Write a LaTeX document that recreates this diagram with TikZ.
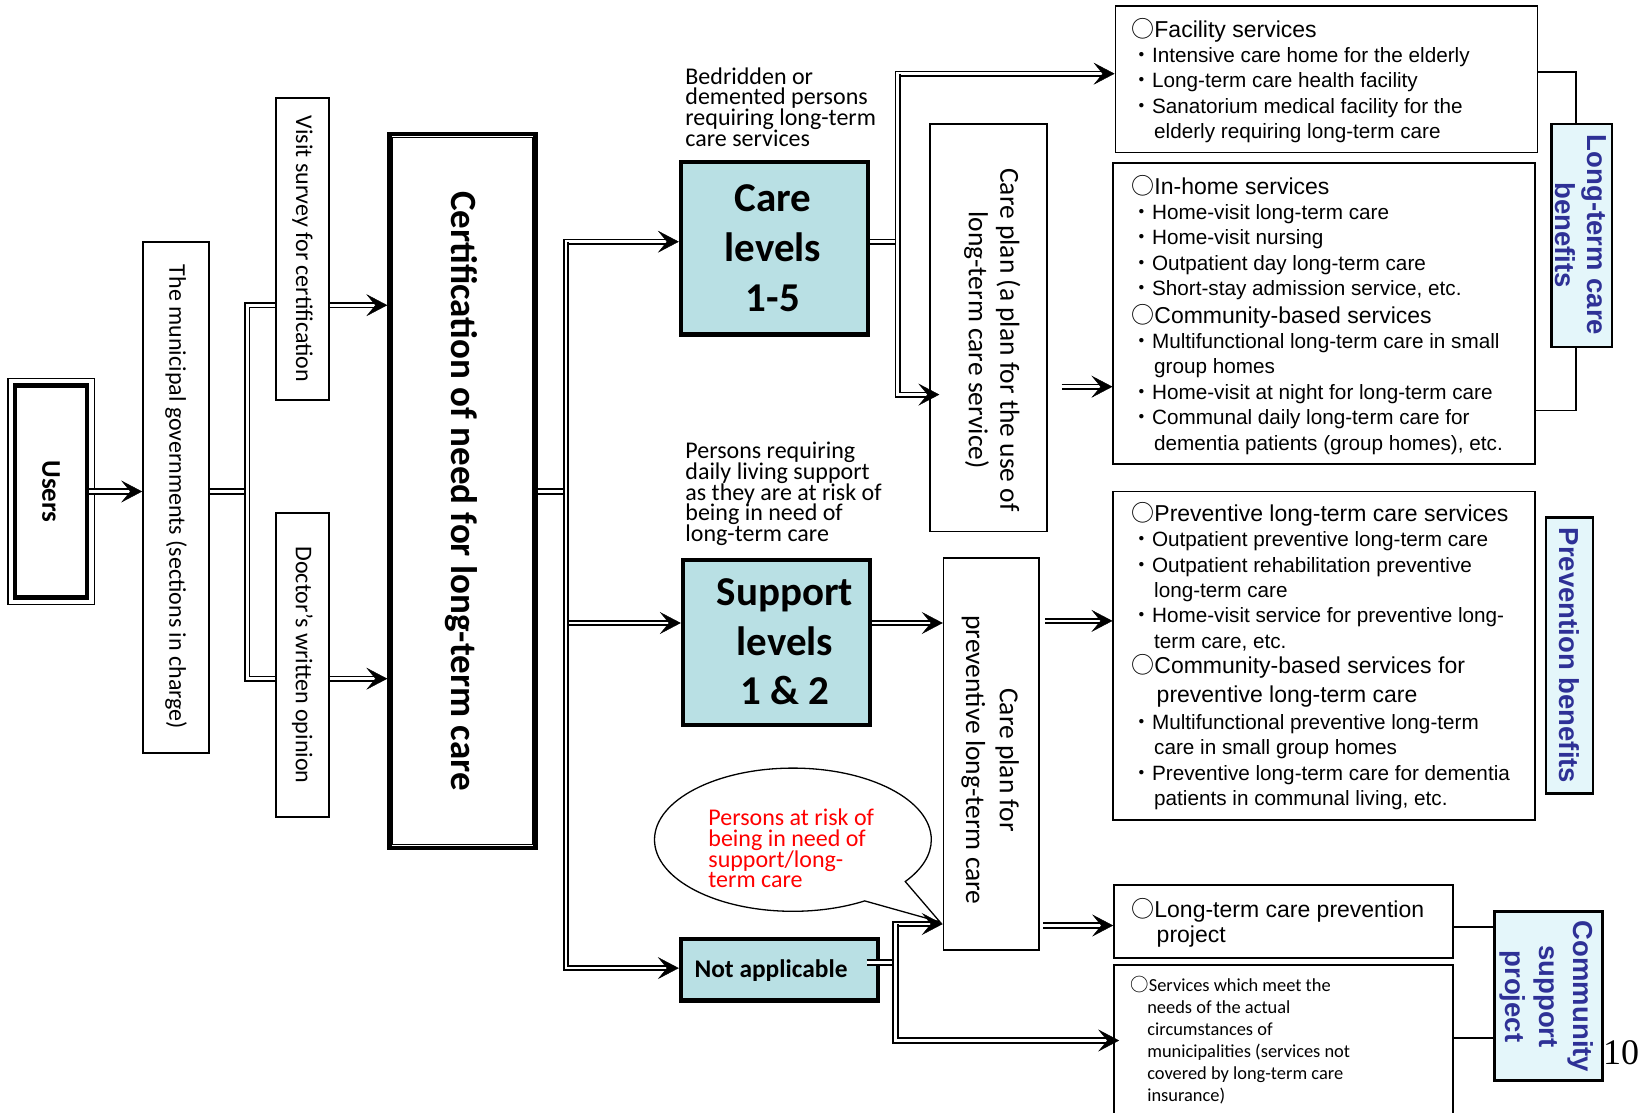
\documentclass[tikz,border=0pt]{standalone}
\usepackage{fontspec}
\setmainfont{Carlito}
\newfontfamily\arialf{Liberation Sans}
\newfontfamily\jpfont{Noto Sans CJK JP}
\newfontfamily\serifnum{Liberation Serif}
\usetikzlibrary{arrows.meta,calc,shapes.callouts}
\definecolor{lvfill}{RGB}{185,224,228}
\definecolor{lblfill}{RGB}{228,246,250}
\definecolor{lblblue}{RGB}{46,49,150}
\definecolor{bubred}{RGB}{255,0,0}
\newcommand\setfs[2]{\fontsize{#1}{#2}\selectfont\lineskiplimit=-100pt\relax}
\newcommand\wc{{\jpfont ○}}
\newcommand\bu{{\jpfont ・}}
\newcommand\ind{\hspace*{1.1em}}
\newcommand\hd{\setfs{11.5}{12.7}}
\newcommand\dblarr[2][]{\draw[dbl,shorten >=5.5pt,#1] #2; \draw[tipline,#1] #2;}
\tikzset{
 thinbox/.style={draw, line width=0.85pt, fill=white, inner sep=0pt},
 thickbox/.style={draw, line width=2.2pt, fill=white, inner sep=0pt},
 lvbox/.style={thickbox, fill=lvfill},
 lblbox/.style={draw, line width=1.25pt, fill=lblfill, inner sep=0pt},
 lbltext/.style={rotate=-90, align=center, inner sep=0pt, text=lblblue},
 lblfont/.style={font=\arialf\bfseries\setfs{13.75}{#1}},
 rottext/.style={rotate=-90, align=center, inner sep=0pt},
 listtext/.style={anchor=west, align=left, inner sep=0pt, font=\arialf\setfs{10.35}{12.7}},
 notetext/.style={anchor=west, align=left, inner sep=0pt, font=\setfs{12}{10.4}},
 dbl/.style={draw=black, line width=0.9pt, double=white, double distance=1.3pt},
 tipline/.style={draw=white, line width=0.2pt, -{Stealth[color=black, fill=black, length=10.5pt, width=11pt, inset=4.5pt]}},
 bracket/.style={draw, line width=0.85pt},
}
\begin{document}
\begin{tikzpicture}[x=0.5pt, y=-0.5pt]
\useasboundingbox[fill=white] (0,0) rectangle (1650,1113);

% ---------- left column ----------
\node[thickbox, minimum width=36.25pt, minimum height=106pt] (users) at (51,491.5) {};
\draw[line width=0.65pt] ($(users.north west)+(-4.7,-4.5)$) rectangle ($(users.south east)+(4.7,4.5)$);
\node[rottext, font=\bfseries\setfs{13.5}{16}] (userstext) at (users.center) {Users};

\node[thinbox, minimum width=33pt, minimum height=255.5pt] (muni) at (176,497.5) {};
\node[rottext, font=\setfs{12}{14}] (munitext) at (176,497) {The municipal governments (sections in charge)};

\node[thinbox, minimum width=26.5pt, minimum height=151pt] (visit) at (302.5,249) {};
\node[rottext, font=\setfs{12}{14}] (visittext) at (visit.center) {Visit survey for certification};
\node[thinbox, minimum width=26.5pt, minimum height=152pt] (doctor) at (302.5,665) {};
\node[rottext, font=\setfs{12}{14}] (doctortext) at (doctor.center) {Doctor’s written opinion};

\node[thickbox, minimum width=73pt, minimum height=357pt] (cert) at (462.5,491) {};
\draw[line width=0.65pt] ($(cert.north west)+(5.5,5.5)$) rectangle ($(cert.south east)+(-5.5,-5.5)$);
\node[rottext, font=\bfseries\setfs{18.5}{22}] (certtext) at (461,491) {Certification of need for long-term care};

% ---------- levels ----------
\node[notetext] (bedtext) at (685,107) {Bedridden or\\demented persons\\requiring long-term\\care services};
\node[lvbox, minimum width=93.5pt, minimum height=86.25pt] (care) at (774.5,248.25) {};
\node[align=center, inner sep=0pt, font=\bfseries\setfs{20.5}{25}] (caretext) at (773,248.5) {Care\\levels\\1-5};

\node[notetext] (perstext) at (685,494) {Persons requiring\\daily living support\\as they are at risk of\\being in need of\\long-term care};
\node[lvbox, minimum width=93.5pt, minimum height=82.5pt] (support) at (776.5,642.5) {};
\node[align=center, inner sep=0pt, font=\bfseries\setfs{20.5}{24.75}] (supporttext) at (785,642) {Support\\levels\\1 \& 2};

\node[lvbox, minimum width=98.5pt, minimum height=30.75pt] (na) at (779.5,969.75) {};
\node[inner sep=0pt, font=\bfseries\setfs{12.7}{15}] (natext) at (771,971) {Not applicable};

\coordinate (bubtip) at (940,922);
\node[ellipse callout, draw, line width=0.65pt, fill=white, minimum width=138.4pt, minimum height=71.6pt, inner sep=0pt, callout absolute pointer={(bubtip)}, callout pointer arc=23] (bubble) at (792.9,839.7) {};
\node[notetext, text=bubred] (bubtext) at (708,848.5) {Persons at risk of\\being in need of\\support/long-\\term care};

% ---------- care plans ----------
\node[thinbox, minimum width=58.4pt, minimum height=203.6pt] (careplan) at (988.6,327.8) {};
\node[rottext, font=\setfs{13.75}{15.8}] (careplantext) at (992.3,340) {Care plan (a plan for the use of\\long-term care service)};
\node[thinbox, minimum width=47.6pt, minimum height=196.25pt] (careprev) at (991.2,754) {};
\node[rottext, font=\setfs{13.75}{16.8}] (careprevtext) at (990.2,760) {Care plan for\\preventive long-term care};

% ---------- service boxes ----------
\node[thinbox, minimum width=211pt, minimum height=73.15pt] (facility) at (1326.4,79.45) {};
\node[listtext] (facilitytext) at (1131,80.5) {{\hd\wc Facility services}\\
\bu Intensive care home for the elderly\\
\bu Long-term care health facility\\
\bu Sanatorium medical facility for the\\
\ind elderly requiring long-term care};

\node[thinbox, minimum width=211pt, minimum height=150.5pt] (inhome) at (1324.3,313.6) {};
\node[listtext] (inhometext) at (1131,314.7) {{\hd\wc In-home services}\\
\bu Home-visit long-term care\\
\bu Home-visit nursing\\
\bu Outpatient day long-term care\\
\bu Short-stay admission service, etc.\\[1pt]
{\hd\wc Community-based services}\\
\bu Multifunctional long-term care in small\\
\ind group homes\\
\bu Home-visit at night for long-term care\\
\bu Communal daily long-term care for\\
\ind dementia patients (group homes), etc.};

\node[thinbox, minimum width=211pt, minimum height=164.15pt] (preventive) at (1324.3,655.55) {};
\node[listtext] (preventivetext) at (1131,656) {{\hd\wc Preventive long-term care services}\\
\bu Outpatient preventive long-term care\\
\bu Outpatient rehabilitation preventive\\
\ind long-term care\\
\bu Home-visit service for preventive long-\\
\ind term care, etc.\\
{\hd\wc Community-based services for}\\[1.5pt]
{\hd\hspace*{1.1em}preventive long-term care}\\[1pt]
\bu Multifunctional preventive long-term\\
\ind care in small group homes\\
\bu Preventive long-term care for dementia\\
\ind patients in communal living, etc.};

\node[thinbox, minimum width=169.6pt, minimum height=36.35pt] (ltcprev) at (1283.6,921.35) {};
\node[listtext] (ltcprevtext) at (1131,922.8) {{\hd\wc Long-term care prevention}\\
{\hd\hspace*{1.1em}project}};

\node[thinbox, minimum width=169.6pt, minimum height=82.5pt] (services) at (1283.6,1047.5) {};
\node[anchor=west, align=left, inner sep=0pt, font=\setfs{9.2}{11}] (servicestext) at (1130,1040) {\wc Services which meet the\\
\hspace*{0.92em}needs of the actual\\
\hspace*{0.92em}circumstances of\\
\hspace*{0.92em}municipalities (services not\\
\hspace*{0.92em}covered by long-term care\\
\hspace*{0.92em}insurance)};

% ---------- labels ----------
\node[lblbox, minimum width=30.15pt, minimum height=111.5pt] (ltclabel) at (1581.85,235.5) {};
\node[lbltext, lblfont=15.8] (ltclabeltext) at (1580.6,235) {Long-term care\\benefits};
\node[lblbox, minimum width=23.7pt, minimum height=137.85pt] (prevlabel) at (1569.5,655.55) {};
\node[lbltext, lblfont=16] (prevlabeltext) at (prevlabel.center) {Prevention benefits};
\node[lblbox, minimum width=54.2pt, minimum height=84.7pt] (community) at (1548.5,996) {};
\node[lbltext, lblfont=17] (communitytext) at (1546.9,996.5) {Community\\support\\project};

\node[inner sep=0pt, font=\serifnum\setfs{18}{20}] (pagenum) at (1621,1053) {10};

% ---------- connectors ----------
\coordinate (s1) at (247.3,491.5);
\coordinate (a1) at (247.3,305.2);
\coordinate (a2) at (247.3,678.7);
\dblarr{(users.east) -- (users.east -| muni.west)}
\draw[dbl] (s1 -| muni.east) -- (s1);
\draw[dbl] (a2 -| doctor.west) -- (a2) -- (a1) -- (a1 -| visit.west);
\dblarr{(a1 -| visit.east) -- (a1 -| cert.west)}
\dblarr{(a2 -| doctor.east) -- (a2 -| cert.west)}

\coordinate (c1) at (566,491.5);
\coordinate (b1) at (566,241.7);
\coordinate (b2) at (566,623);
\coordinate (b3) at (566,968.1);
\draw[dbl] (c1 -| cert.east) -- (c1);
\dblarr{(b2) -- (b2 -| support.west)}
\dblarr{(b3) -- (b1) -- (b1 -| care.west)}
\dblarr{(b1) -- (b3) -- (b3 -| na.west)}

\coordinate (c2) at (897.6,241.7);
\coordinate (d1) at (897.6,73.7);
\coordinate (d2) at (897.6,394.6);
\draw[dbl] (c2 -| care.east) -- (c2);
\dblarr{(d2) -- (d1) -- (d1 -| facility.west)}
\dblarr{(d1) -- (d2) -- ($(d2 -| careplan.west)+(10,0)$)}

\coordinate (e1) at (1061.7,386.7);
\dblarr{(e1) -- (e1 -| inhome.west)}

\coordinate (f1) at (870,623);
\dblarr{(f1 -| support.east) -- (f1 -| careprev.west)}
\coordinate (f2) at (1045,620.9);
\dblarr{(f2) -- (f2 -| preventive.west)}
\coordinate (f3) at (1043,925.5);
\dblarr{(f3) -- (f3 -| ltcprev.west)}

\coordinate (g1) at (866.7,962.5);
\coordinate (g2) at (895.5,962.5);
\draw[dbl] (g1) -- (g2);
\coordinate (h1) at (895.5,924);
\coordinate (h2) at (895.5,1040.5);
\dblarr{(h2) -- (h1) -- (h1 -| careprev.west)}
\dblarr{(h1) -- (h2) -- ($(h2 -| services.west)+(6,0)$)}

\coordinate (k1) at (1576,71.7);
\coordinate (k2) at (1576,410.4);
\draw[bracket] (k1 -| facility.east) -- (k1) -- (k1 |- ltclabel.north);
\draw[bracket] (k2 |- ltclabel.south) -- (k2) -- (k2 -| inhome.east);
\coordinate (m1) at (1473,927);
\coordinate (m2) at (1473,1038);
\draw[bracket] (m1 -| ltcprev.east) -- (m1 -| community.west);
\draw[bracket] (m2 -| services.east) -- (m2 -| community.west);
\end{tikzpicture}
\end{document}
